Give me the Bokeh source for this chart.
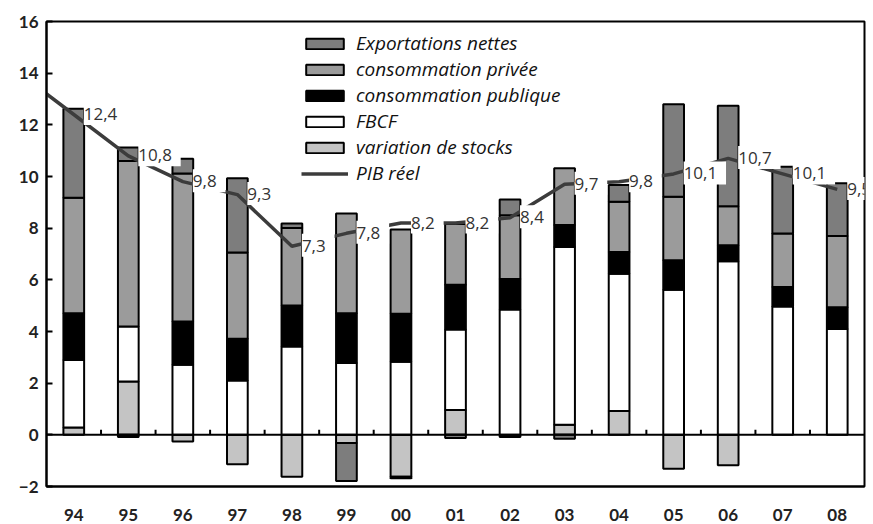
from bokeh.plotting import figure
from bokeh.models import (ColumnDataSource, LabelSet, Legend, LegendItem,
                          FixedTicker, Span, Range1d)
from bokeh.embed import file_html
from bokeh.resources import INLINE
from bokeh.core.properties import value

# ---------------- data ----------------
years = ["94", "95", "96", "97", "98", "99", "00", "01", "02", "03",
         "04", "05", "06", "07", "08"]

stocks = [0.28, 2.06, -0.26, -1.14, -1.62, -0.32, -1.62, 0.96, -0.08, 0.39,
          0.92, -1.31, -1.18, 0.0, 0.0]
fbcf = [2.62, 2.13, 2.71, 2.10, 3.42, 2.78, 2.83, 3.12, 4.85, 6.88,
        5.32, 5.62, 6.72, 4.97, 4.10]
pub = [1.81, -0.08, 1.68, 1.62, 1.59, 1.93, 1.86, 1.73, 1.18, 0.85,
       0.84, 1.14, 0.62, 0.75, 0.84]
priv = [4.47, 6.41, 5.73, 3.34, 3.00, 3.86, 3.26, 2.35, 2.47, 2.20,
        1.94, 2.46, 1.51, 2.07, 2.76]
export = [3.44, 0.52, 0.57, 2.87, 0.17, -1.47, -0.06, -0.12, 0.61, -0.15,
          0.65, 3.58, 3.89, 2.59, 2.04]

pib_years = ["93"] + years
pib = [14.0, 12.4, 10.8, 9.8, 9.3, 7.3, 7.8, 8.2, 8.2, 8.4, 9.7,
       9.8, 10.1, 10.7, 10.1, 9.5]

y_ticks = [-2, 0, 2, 4, 6, 8, 10, 12, 14, 16]

# ---------------- figure ----------------
n = len(years)
xs = list(range(n))

p = figure(width=873, height=524, output_backend="svg", toolbar_location=None,
           x_range=Range1d(-0.5, n - 0.5), y_range=Range1d(-2, 16),
           min_border_left=46, min_border_right=9, min_border_top=21,
           min_border_bottom=38)
p.background_fill_color = "white"
p.border_fill_color = "white"
p.outline_line_color = "black"
p.outline_line_width = 2
p.xgrid.visible = False
p.ygrid.visible = False

series = [
    ("variation de stocks", stocks, "#c4c4c4"),
    ("FBCF", fbcf, "#ffffff"),
    ("consommation publique", pub, "#000000"),
    ("consommation privée", priv, "#9b9b9b"),
    ("Exportations nettes", export, "#7d7d7d"),
]

pos_base = [0.0] * n
neg_base = [0.0] * n
rends = {}
for name, vals, color in series:
    bx, bottoms, tops = [], [], []
    for i, v in enumerate(vals):
        if v == 0:
            continue
        if v > 0:
            b = pos_base[i]
            t = b + v
            pos_base[i] = t
        else:
            b = neg_base[i]
            t = b + v
            neg_base[i] = t
        bx.append(xs[i])
        bottoms.append(b)
        tops.append(t)
    src = ColumnDataSource(dict(x=bx, bottom=bottoms, top=tops))
    rends[name] = p.vbar(x="x", bottom="bottom", top="top", width=0.38,
                         source=src, fill_color=color, line_color="black",
                         line_width=2)

# zero line and category-boundary ticks
p.add_layout(Span(location=0, dimension="width", line_color="black",
                  line_width=2))
bounds = [i + 0.5 for i in xs[:-1]]
p.segment(x0=bounds, y0=[0] * len(bounds), x1=bounds, y1=[0.2] * len(bounds),
          line_color="black", line_width=2)

# PIB line
pib_x = [i - 1 for i in range(len(pib_years))]
line_r = p.line(x=pib_x, y=pib, line_color="#3c3c3c", line_width=3.5)

def fmt(v):
    return " " + ("%.1f" % v).replace(".", ",") + " "

lab_src = ColumnDataSource(dict(x=pib_x[1:], y=pib[1:],
                                label=[fmt(v) for v in pib[1:]]))
p.add_layout(LabelSet(x="x", y="y", text="label", source=lab_src,
                      x_offset=10, y_offset=1, text_baseline="middle",
                      text_align="left", text_font=value("Open Sans"),
                      text_font_size="17px", text_color="#333333",
                      background_fill_color="white"))

# y axis
p.yaxis.ticker = FixedTicker(ticks=y_ticks)
p.yaxis.major_tick_in = 6
p.yaxis.major_tick_out = 0
p.yaxis.minor_tick_line_color = None
p.yaxis.axis_line_width = 2
p.yaxis.major_tick_line_width = 2
p.yaxis.major_label_standoff = 8
p.yaxis.major_label_text_font = "Lato"
p.yaxis.major_label_text_font_style = "bold"
p.yaxis.major_label_text_font_size = "17px"
p.yaxis.major_label_text_color = "#222222"

# x axis
p.xaxis.ticker = FixedTicker(ticks=xs)
p.xaxis.major_label_overrides = {i: years[i] for i in xs}
p.xaxis.major_tick_in = 0
p.xaxis.major_tick_out = 0
p.xaxis.minor_tick_line_color = None
p.xaxis.axis_line_width = 2
p.xaxis.major_label_standoff = 22
p.xaxis.major_label_text_line_height = 0.5
p.xaxis.major_label_text_font = "Lato"
p.xaxis.major_label_text_font_style = "bold"
p.xaxis.major_label_text_font_size = "17px"
p.xaxis.major_label_text_color = "#222222"

# legend
items = [LegendItem(label=name, renderers=[rends[name]])
         for name in ["Exportations nettes", "consommation privée",
                      "consommation publique", "FBCF", "variation de stocks"]]
items.append(LegendItem(label="PIB réel", renderers=[line_r]))
legend = Legend(items=items, location=(255, 300), glyph_width=47,
                glyph_height=13, label_standoff=8, spacing=0, padding=0,
                margin=0, label_height=20,
                label_text_font="Open Sans", label_text_font_style="italic",
                label_text_font_size="19px", label_text_color="#111111",
                border_line_color=None, background_fill_alpha=0)
p.add_layout(legend)

open("out.html", "w").write(file_html(p, INLINE))
